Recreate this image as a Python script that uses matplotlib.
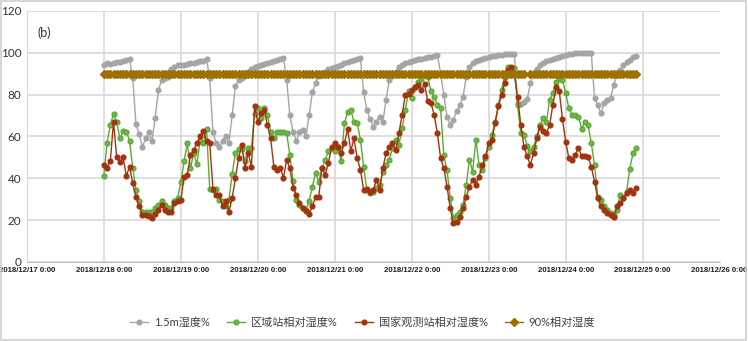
import pandas as pd
import matplotlib.pyplot as plt
from matplotlib.patches import Rectangle
import numpy as np

plt.rcParams['font.family'] = ['Lato', 'Noto Sans CJK SC', 'DejaVu Sans']

# hourly values, 2018/12/18 0:00 onwards
gray = [94, 95, 94.5, 95, 95.5, 95.5, 96, 96.5, 97, 88, 66, 61, 55, 59, 62, 58, 69, 82, 87, 88, 88.5, 92, 93, 94,
        94, 94, 94.5, 95, 95, 95.5, 96, 96, 97, 88, 62, 57, 55, 58, 60, 57, 70, 84, 87, 88, 89, 91, 92, 93,
        93.5, 94, 94.5, 95, 95.5, 96, 96.5, 97, 97.5, 87, 70, 62, 58, 62, 63, 60, 70, 81, 85.5, 89, 90, 91, 92, 92.5,
        93, 93.5, 94, 95, 95.5, 96, 96.5, 97, 97.5, 81, 72.7, 68.4, 64.5, 67, 69.5, 67, 77.5, 87, 89, 91, 93, 94, 95, 95.5,
        96, 96.5, 97, 97, 97.5, 98, 98, 98.5, 99, 90, 80, 69.5, 65.5, 68, 72, 75, 79, 88.6, 93, 95, 96, 96.5, 97, 97.5,
        98, 98.5, 98.5, 99, 99, 99.5, 99.5, 99.5, 99.5, 76, 75.5, 76.5, 77.8, 85.4, 90, 92, 94, 95, 96, 96.5, 97, 97.5, 98, 98.5,
        99, 99.5, 99.5, 100, 100, 100, 100, 100, 100, 78.3, 75, 71, 75.9, 77.5, 78.3, 84.6, 89.4, 91.8, 94, 95.7, 96.6, 97.8, 98.5]

green = [41.3, 57, 65.5, 70.6, 66.8, 59, 62.6, 62.3, 58, 44.8, 34.4, 29, 24, 24, 24, 24, 25.7, 27.3, 29, 27, 26, 26, 29, 30.5,
         38, 48, 56.7, 44.8, 52, 46.7, 58, 57, 63.6, 35, 34.4, 35, 29.6, 29, 26.5, 29.6, 42, 52, 54, 54, 48, 54.4, 54.4, 70.6,
         73.8, 68.7, 73.5, 70.3, 62.3, 59, 62, 62.3, 62, 61.5, 51, 38.7, 29.6, 27.3, 25.7, 24.9, 28.9, 36, 42.4, 38.4, 44.8, 48.8, 52.8, 54.4,
         53, 54.7, 48, 66.3, 71.6, 72.7, 66.8, 66.3, 58.3, 45.6, 34.4, 32.8, 33.6, 35.2, 36.8, 43.2, 46.4, 48.8, 54.4, 58.3, 56, 64, 72.7, 81.5,
         78.3, 83.8, 86, 87.5, 89.4, 88.6, 81.5, 79, 75, 73.5, 51, 44, 30.4, 20.9, 22.5, 24, 27.3, 36.8, 48.8, 43.2, 58.3, 46.4, 44, 49.6,
         55, 60.7, 67, 75, 82.2, 88.6, 93, 92.6, 92.6, 75, 61.5, 60.7, 55.6, 52.8, 55, 60, 65.5, 68.7, 67, 77.5, 80.7, 86.2, 87.8, 87,
         80.7, 73.5, 70.3, 70, 69.5, 63.6, 67, 65.5, 56.7, 46.4, 31.2, 29.6, 26.5, 24.9, 23.3, 22.5, 24.9, 32, 30.4, 33.6, 44.5, 52, 54.4]

red = [46.4, 45, 48, 67, 50, 47.7, 50, 41, 45.6, 37.6, 31, 26.5, 22.5, 22.5, 22, 21, 23, 25, 27, 25, 24, 24, 28, 29,
       29.5, 40.8, 41.6, 51, 53.5, 56.7, 60, 62.6, 58, 57, 35, 32, 32, 26.5, 29, 24, 30.5, 40, 49.6, 56, 45, 52, 45.6, 74.3,
       67, 71, 72.7, 65.5, 59, 45.6, 44, 44.8, 40.3, 48.8, 44.8, 35.5, 32, 28, 26, 24.4, 23, 26.5, 30.8, 31.2, 45, 41.6, 47.2, 55,
       56.7, 55, 52, 56.7, 63.6, 53, 59, 49.6, 44, 34.4, 35, 33.6, 34.4, 39.2, 34.4, 44.8, 52, 55, 56.7, 53.5, 61.5, 70.3, 79.9, 80.2,
       82.2, 83.8, 84.6, 82.2, 85, 76.7, 75.9, 70.3, 61.5, 49.6, 45, 36, 25.7, 18.5, 19.3, 21.7, 25.7, 31.2, 36, 39.2, 37, 40.8, 46.4, 50.4,
       56.7, 58.3, 66.3, 74.3, 79.9, 85.4, 91.8, 93, 90, 79, 65.5, 55, 50.4, 46.4, 52, 59, 64.7, 62.6, 61.5, 65.5, 75, 83.4, 81.8, 68.4,
       57.5, 49.6, 48.8, 51.2, 54.4, 50.4, 50.4, 50, 45.6, 38.4, 30.4, 26.5, 24.9, 23.3, 22.5, 21.7, 26.5, 28, 30.4, 32.8, 34.4, 32.8, 35.2]

limit = [90] * len(gray)
limit_gap = [132]  # hour with no marker on the 90% line

labels = ['1.5m湿度%', '区域站相对湿度%', '国家观测站相对湿度%', '90%相对湿度']
colors = ['#A5A5A5', '#5BAA35', '#A2330F', '#9E7000']
days = pd.date_range('2018-12-17', '2018-12-26', freq='D')
day_labels = [d.strftime('%Y/%m/%d') + ' 0:00' for d in days]

t = pd.date_range('2018-12-18 00:00', periods=len(gray), freq='h')

fig = plt.figure(figsize=(7.48, 3.41), dpi=100)
ax = fig.add_axes([0.036, 0.232, 0.926, 0.736])

ax.plot(t, gray, color=colors[0], lw=1, marker='o', ms=3.4, label=labels[0])
ax.plot(t, green, color=colors[1], lw=1, marker='o', ms=3.4, mfc='#70B84A', mec='#5BAA35', label=labels[1])
ax.plot(t, red, color=colors[2], lw=1, marker='o', ms=3.4, label=labels[2])
mk = [i for i in range(len(limit)) if i not in limit_gap]
ax.plot(t, limit, color=colors[3], lw=1, marker='D', ms=4, markevery=mk, label=labels[3])

ax.set_ylim(0, 120)
ax.set_yticks(np.arange(0, 121, 20))
ax.set_xlim(days[0], days[-1])
ax.set_xticks(days)
ax.set_xticklabels(day_labels, family=['Liberation Sans Narrow', 'Liberation Sans'],
                   fontsize=5.6, fontweight='bold', color='#1F1F1F')
ax.grid(True, color='#D9D9D9', lw=1.2)
ax.set_axisbelow(True)
ax.get_xgridlines()[-1].set_visible(False)
for s in ['top', 'right']:
    ax.spines[s].set_visible(False)
ax.spines['left'].set_color('#D9D9D9')
ax.spines['bottom'].set_color('#BFBFBF')
ax.tick_params(length=0)
ax.tick_params(axis='x', pad=4)
ax.tick_params(axis='y', pad=4)
for lab in ax.get_yticklabels():
    lab.set_fontsize(8.5)
    lab.set_color('#333333')

ax.text(0.015, 0.94, '(b)', transform=ax.transAxes, fontsize=9, color='#333333', va='top')

fig.legend(loc='center', bbox_to_anchor=(0.485, 0.055), ncol=4, frameon=False,
           fontsize=8, handlelength=1.6, columnspacing=1.6, handletextpad=0.5,
           labelcolor='#404040')

fig.patches.append(Rectangle((0.002, 0.004), 0.995, 0.992, transform=fig.transFigure,
                             fill=False, edgecolor='#D0D0D0', lw=1.2))

fig.savefig('out.png', dpi=100)
